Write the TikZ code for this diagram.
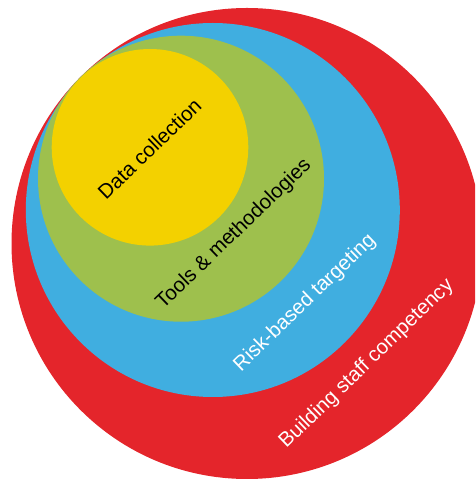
\documentclass[tikz,border=0pt]{standalone}
\usepackage{fontspec}
\setmainfont{Liberation Sans}
\definecolor{cred}{RGB}{228,37,43}
\definecolor{cblue}{RGB}{64,174,224}
\definecolor{cgreen}{RGB}{158,192,77}
\definecolor{cyellow}{RGB}{243,209,0}
\begin{document}
\begin{tikzpicture}[x=1pt,y=1pt,
  lbl/.style={font=\fontsize{20.5}{24}\selectfont, rotate=44, inner sep=0pt}]
\useasboundingbox (0,0) rectangle (475,479);
\clip (0,0) rectangle (475,479);
\fill[cred] (247,235.5) circle[radius=235.5];
\fill[cblue] (212.8,269) circle[radius=187];
\fill[cgreen] (181,300.3) circle[radius=143];
\fill[cyellow] (150,331.7) circle[radius=98.3];
\node[lbl, text=black] (data) at (149.5,330) {Data collection};
\node[lbl, text=black] (tools) at (234,245) {Tools \& methodologies};
\node[lbl, text=white] (risk) at (305,176) {Risk-based targeting};
\node[lbl, text=white] (build) at (366.7,115) {Building staff competency};
\end{tikzpicture}
\end{document}
